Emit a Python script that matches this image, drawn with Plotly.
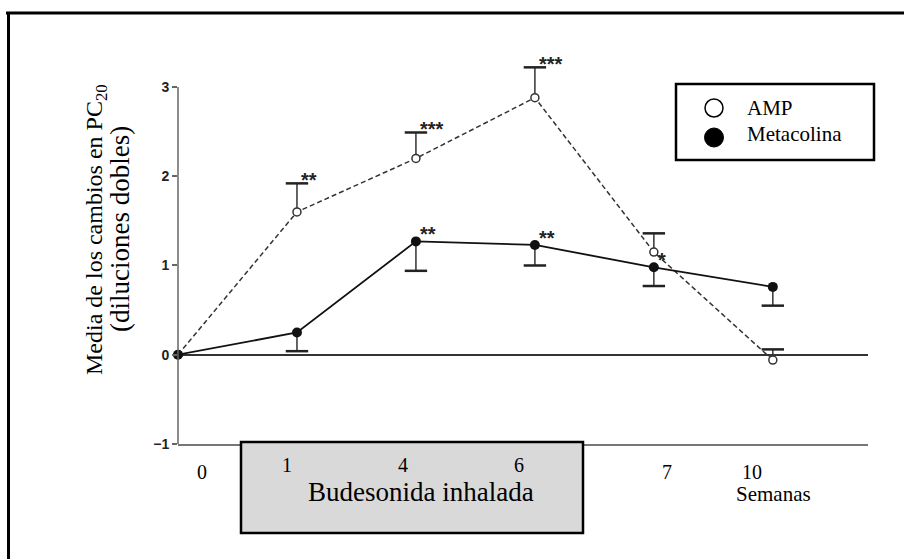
import numpy as np
import plotly.graph_objects as go

# ---- data ----
weeks = ["0", "1", "4", "6", "7", "10"]
amp = [0.0, 1.60, 2.20, 2.88, 1.15, -0.06]
amp_err = [None, 0.32, 0.29, 0.34, 0.21, 0.12]
met = [0.0, 0.25, 1.27, 1.23, 0.98, 0.76]
met_err = [None, 0.21, 0.33, 0.23, 0.21, 0.21]
amp_sig = ["", "**", "***", "***", "", ""]
met_sig = ["", "", "**", "**", "*", ""]
y_ticks = [-1, 0, 1, 2, 3]
series_names = ["AMP", "Metacolina"]
y_title_1 = "Media de los cambios en PC<sub>20</sub>"
y_title_2 = "(diluciones dobles)"
x_unit = "Semanas"
treatment = "Budesonida inhalada"

amp_a = np.array(amp, dtype=float)
met_a = np.array(met, dtype=float)
amp_e = np.array(amp_err, dtype=float)
met_e = np.array(met_err, dtype=float)
amp_top = amp_a + amp_e
met_bot = met_a - met_e

W, H = 904, 559
ML, MR, MT, MB = 178, 36, 56, 115
PW, PH = W - ML - MR, H - MT - MB


def xp(px):
    return (px - ML) / PW


def yp(py):
    return (H - MB - py) / PH


SERIF = "Liberation Serif, Times New Roman, serif"
SANS = "Liberation Sans, Arial, sans-serif"

fig = go.Figure()

# error bars (one-sided): stems via error_y, caps via line-ew markers
fig.add_trace(go.Scatter(
    x=weeks, y=amp_top, mode="markers", showlegend=False, hoverinfo="skip",
    marker=dict(symbol="line-ew", size=16, line=dict(width=2.5, color="#222")),
    error_y=dict(type="data", symmetric=False, array=[0] * len(weeks),
                 arrayminus=amp_e, width=0, thickness=1.5, color="#333"),
    cliponaxis=False))
fig.add_trace(go.Scatter(
    x=weeks, y=met_bot, mode="markers", showlegend=False, hoverinfo="skip",
    marker=dict(symbol="line-ew", size=16, line=dict(width=2.5, color="#222")),
    error_y=dict(type="data", symmetric=False, array=met_e,
                 arrayminus=[0] * len(weeks), width=0, thickness=1.5, color="#333"),
    cliponaxis=False))

# series
fig.add_trace(go.Scatter(
    x=weeks, y=amp, mode="lines+markers", name=series_names[0], showlegend=False,
    line=dict(color="#333", width=1.5, dash="5px,3px"),
    marker=dict(symbol="circle", size=8, color="white", line=dict(color="#333", width=1.5)),
    cliponaxis=False))
fig.add_trace(go.Scatter(
    x=weeks, y=met, mode="lines+markers", name=series_names[1], showlegend=False,
    line=dict(color="#111", width=1.8),
    marker=dict(symbol="circle", size=10, color="#111"),
    cliponaxis=False))

annotations = []
# significance marks, anchored to the data (category index on the x axis)
for i, s in enumerate(amp_sig):
    if s:
        annotations.append(dict(xref="x", yref="y", x=i, y=amp_top[i], text=s,
                                showarrow=False, xanchor="left", yanchor="middle",
                                xshift=2, yshift=3,
                                font=dict(family=SANS, size=20, color="#222", weight="bold")))
for i, s in enumerate(met_sig):
    if s:
        annotations.append(dict(xref="x", yref="y", x=i, y=met_a[i], text=s,
                                showarrow=False, xanchor="left", yanchor="middle",
                                xshift=2, yshift=7,
                                font=dict(family=SANS, size=20, color="#222", weight="bold")))

shapes = []
# outer frame (top and left)
shapes.append(dict(type="line", xref="paper", yref="paper", x0=xp(6), x1=xp(906),
                   y0=yp(13), y1=yp(13), line=dict(color="black", width=3)))
shapes.append(dict(type="line", xref="paper", yref="paper", x0=xp(8.5), x1=xp(8.5),
                   y0=yp(12), y1=yp(562), line=dict(color="black", width=3)))
# y axis line
shapes.append(dict(type="line", xref="paper", yref="y", x0=0, x1=0, y0=-1, y1=3,
                   line=dict(color="#666", width=1.5)))
# treatment box
shapes.append(dict(type="rect", xref="paper", yref="paper", x0=xp(241), x1=xp(583),
                   y0=yp(533), y1=yp(442), fillcolor="#d9d9d9",
                   line=dict(color="black", width=2.5), layer="above"))
# legend box
shapes.append(dict(type="rect", xref="paper", yref="paper", x0=xp(676), x1=xp(874),
                   y0=yp(160), y1=yp(84), fillcolor="white",
                   line=dict(color="black", width=2.5), layer="above"))
shapes.append(dict(type="circle", xref="paper", yref="paper", x0=xp(705), x1=xp(723),
                   y0=yp(117), y1=yp(99), fillcolor="white",
                   line=dict(color="black", width=1.5), layer="above"))
shapes.append(dict(type="circle", xref="paper", yref="paper", x0=xp(704.5), x1=xp(723.5),
                   y0=yp(147), y1=yp(128), fillcolor="black",
                   line=dict(color="black", width=1), layer="above"))

# legend text
annotations.append(dict(xref="paper", yref="paper", x=xp(745), y=yp(108), text=series_names[0],
                        showarrow=False, xanchor="left", yanchor="middle",
                        font=dict(family=SERIF, size=21, color="black")))
annotations.append(dict(xref="paper", yref="paper", x=xp(745), y=yp(134), text=series_names[1],
                        showarrow=False, xanchor="left", yanchor="middle",
                        font=dict(family=SERIF, size=21, color="black")))
# week labels (placed as in the original figure)
label_px = [202, 287, 403, 519, 667, 752]
label_py = [472, 465, 465, 465, 472, 472]
for t, lx, ly in zip(weeks, label_px, label_py):
    annotations.append(dict(xref="paper", yref="paper", x=xp(lx), y=yp(ly), text=t,
                            showarrow=False, xanchor="center", yanchor="middle",
                            font=dict(family=SERIF, size=20, color="black")))
annotations.append(dict(xref="paper", yref="paper", x=xp(773), y=yp(494), text=x_unit,
                        showarrow=False, xanchor="center", yanchor="middle",
                        font=dict(family=SERIF, size=21, color="black")))
annotations.append(dict(xref="paper", yref="paper", x=xp(421), y=yp(492), text=treatment,
                        showarrow=False, xanchor="center", yanchor="middle",
                        font=dict(family=SERIF, size=27, color="black")))
# y title
annotations.append(dict(xref="paper", yref="paper", x=xp(96), y=yp(230), text=y_title_1,
                        showarrow=False, textangle=-90, xanchor="center", yanchor="middle",
                        font=dict(family=SERIF, size=24, color="black")))
annotations.append(dict(xref="paper", yref="paper", x=xp(120), y=yp(229), text=y_title_2,
                        showarrow=False, textangle=-90, xanchor="center", yanchor="middle",
                        font=dict(family=SERIF, size=27, color="black")))

fig.update_layout(
    width=W, height=H,
    margin=dict(l=ML, r=MR, t=MT, b=MB, pad=0),
    paper_bgcolor="white", plot_bgcolor="white",
    showlegend=False,
    shapes=shapes, annotations=annotations,
    xaxis=dict(type="category", categoryorder="array", categoryarray=weeks,
               range=[0, 5.8], showline=True, linecolor="#777", linewidth=1.5,
               ticks="", showticklabels=False, showgrid=False, zeroline=False),
    yaxis=dict(range=[-1, 3.347], tickvals=y_ticks, ticks="outside", ticklen=5,
               tickwidth=1.5, tickcolor="#666", showline=False, showgrid=False,
               zeroline=True, zerolinecolor="#333", zerolinewidth=1.5,
               tickfont=dict(family=SANS, size=14, color="#222", weight="bold")),
)

fig.write_html("out.html")
